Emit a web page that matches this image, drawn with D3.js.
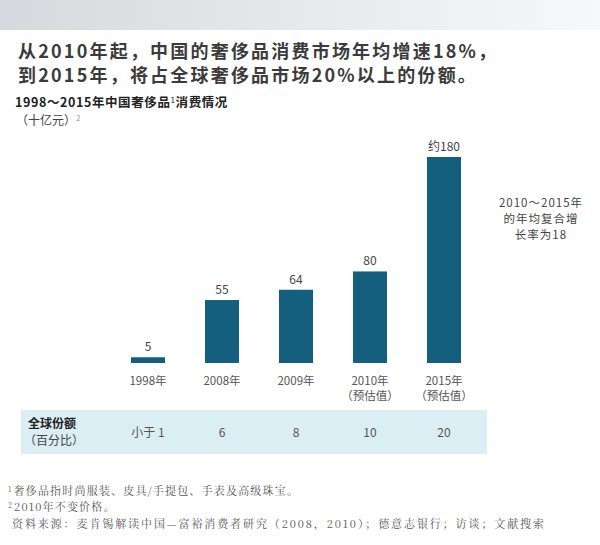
<!DOCTYPE html>
<html>
<head>
<meta charset="utf-8">
<script src="https://cdn.jsdelivr.net/npm/d3@7"></script>
<style>
  body { margin: 0; background: #fff; }
  svg { display: block; }
</style>
</head>
<body>
<div id="canvas"></div>
<script>
"use strict"

/* Data */
let years = ["1998年", "2008年", "2009年", "2010年", "2015年"];
let yearNotes = ["", "", "", "（预估值）", "（预估值）"];
let values = [5, 55, 64, 80, 180];
let valueLabels = ["5", "55", "64", "80", "约180"];
let shares = ["小于 1", "6", "8", "10", "20"];

/* Config */
let svgWidth = 600;
let svgHeight = 545;
let baseline = 363;
let cjk = "'Noto Sans CJK SC', 'Noto Sans', sans-serif";
let barColor = "#155f7e";

let svg = d3.select("#canvas")
    .append("svg")
    .attr("width", svgWidth)
    .attr("height", svgHeight);

/* grey band at the top */
let grad = svg.append("defs").append("linearGradient")
    .attr("id", "band");
grad.append("stop").attr("offset", "0%").attr("stop-color", "#d6d9dd");
grad.append("stop").attr("offset", "100%").attr("stop-color", "#f7f8f9");
svg.append("rect")
    .attr("width", svgWidth)
    .attr("height", 30)
    .attr("fill", "url(#band)");

/* headline */
let title = ["从2010年起，中国的奢侈品消费市场年均增速18%，",
    "到2015年，将占全球奢侈品市场20%以上的份额。"];
svg.selectAll(".title")
    .data(title)
    .join("text")
    .attr("class", "title")
    .attr("x", 18)
    .attr("y", (d, i) => 58 + i * 24)
    .attr("font-family", cjk)
    .attr("font-weight", "bold")
    .attr("font-size", 18)
    .attr("letter-spacing", 2.2)
    .attr("fill", "#3b3b3b")
    .text(d => d);

/* chart subtitle */
let sub = svg.append("text")
    .attr("x", 15)
    .attr("y", 107)
    .attr("font-family", cjk)
    .attr("font-weight", "bold")
    .attr("font-size", 12.5)
    .attr("letter-spacing", 0.6)
    .attr("fill", "#222");
sub.append("tspan").text("1998～2015年中国奢侈品");
sub.append("tspan").attr("font-size", 8).attr("dy", -4).attr("font-weight", "normal").text("1");
sub.append("tspan").attr("dy", 4).text("消费情况");

let unit = svg.append("text")
    .attr("x", 16)
    .attr("y", 125)
    .attr("font-family", cjk)
    .attr("font-size", 12)
    .attr("fill", "#444");
unit.append("tspan").text("（十亿元）");
unit.append("tspan").attr("font-size", 8).attr("dy", -4).attr("fill", "#999").text("2");

/* scales */
let xScale = d3.scaleBand()
    .domain(years)
    .range([111, 481])
    .paddingInner(0.54)
    .paddingOuter(0.27);

let yScale = d3.scaleLinear()
    .domain([0, 180])
    .range([baseline, 157]);

/* bars */
svg.selectAll(".bar")
    .data(values)
    .join("rect")
    .attr("class", "bar")
    .attr("x", (d, i) => xScale(years[i]))
    .attr("y", d => yScale(d))
    .attr("width", xScale.bandwidth())
    .attr("height", d => baseline - yScale(d))
    .attr("fill", barColor);

/* value labels */
svg.selectAll(".val")
    .data(values)
    .join("text")
    .attr("class", "val")
    .attr("x", (d, i) => xScale(years[i]) + xScale.bandwidth() / 2)
    .attr("y", d => yScale(d) - 6)
    .attr("text-anchor", "middle")
    .attr("font-family", cjk)
    .attr("font-size", 12)
    .attr("fill", "#444")
    .text((d, i) => valueLabels[i]);

/* category labels */
let cats = svg.selectAll(".cat")
    .data(years)
    .join("text")
    .attr("class", "cat")
    .attr("text-anchor", "middle")
    .attr("font-family", cjk)
    .attr("font-size", 11.5)
    .attr("fill", "#555");
cats.append("tspan")
    .attr("x", d => xScale(d) + xScale.bandwidth() / 2)
    .attr("y", 385)
    .text(d => d);
cats.append("tspan")
    .attr("x", d => xScale(d) + xScale.bandwidth() / 2)
    .attr("y", 400)
    .text((d, i) => yearNotes[i]);

/* growth note */
let note = ["2010～2015年", "的年均复合增", "长率为18"];
svg.selectAll(".note")
    .data(note)
    .join("text")
    .attr("class", "note")
    .attr("x", 541)
    .attr("y", (d, i) => 207 + i * 16)
    .attr("text-anchor", "middle")
    .attr("font-family", cjk)
    .attr("font-size", 11.5)
    .attr("letter-spacing", 1)
    .attr("fill", "#444")
    .text(d => d);

/* share table */
svg.append("rect")
    .attr("x", 21)
    .attr("y", 410)
    .attr("width", 466)
    .attr("height", 44)
    .attr("fill", "#dbeef4");

svg.append("text")
    .attr("x", 28)
    .attr("y", 428)
    .attr("font-family", cjk)
    .attr("font-weight", "bold")
    .attr("font-size", 12)
    .attr("fill", "#222")
    .text("全球份额");
svg.append("text")
    .attr("x", 24)
    .attr("y", 445)
    .attr("font-family", cjk)
    .attr("font-size", 12)
    .attr("fill", "#444")
    .text("（百分比）");

svg.selectAll(".share")
    .data(shares)
    .join("text")
    .attr("class", "share")
    .attr("x", (d, i) => xScale(years[i]) + xScale.bandwidth() / 2)
    .attr("y", 437)
    .attr("text-anchor", "middle")
    .attr("font-family", cjk)
    .attr("font-size", 12)
    .attr("fill", "#555")
    .text(d => d);

/* footnotes */
let foot = svg.append("g")
    .attr("font-family", "'Noto Serif CJK SC', 'Noto Sans CJK SC', serif")
    .attr("font-size", 11)
    .attr("letter-spacing", 1.2)
    .attr("fill", "#555");
let f1 = foot.append("text").attr("x", 8).attr("y", 495);
f1.append("tspan").attr("font-size", 7).attr("dy", -3).text("1");
f1.append("tspan").attr("dy", 3).attr("dx", 1).text("奢侈品指时尚服装、皮具/手提包、手表及高级珠宝。");
let f2 = foot.append("text").attr("x", 8).attr("y", 511);
f2.append("tspan").attr("font-size", 7).attr("dy", -3).text("2");
f2.append("tspan").attr("dy", 3).attr("dx", 1).text("2010年不变价格。");
foot.append("text")
    .attr("x", 12)
    .attr("y", 528)
    .attr("letter-spacing", 1.9)
    .text("资料来源：麦肯锡解读中国—富裕消费者研究（2008，2010）；德意志银行；访谈；文献搜索");
</script>
</body>
</html>
